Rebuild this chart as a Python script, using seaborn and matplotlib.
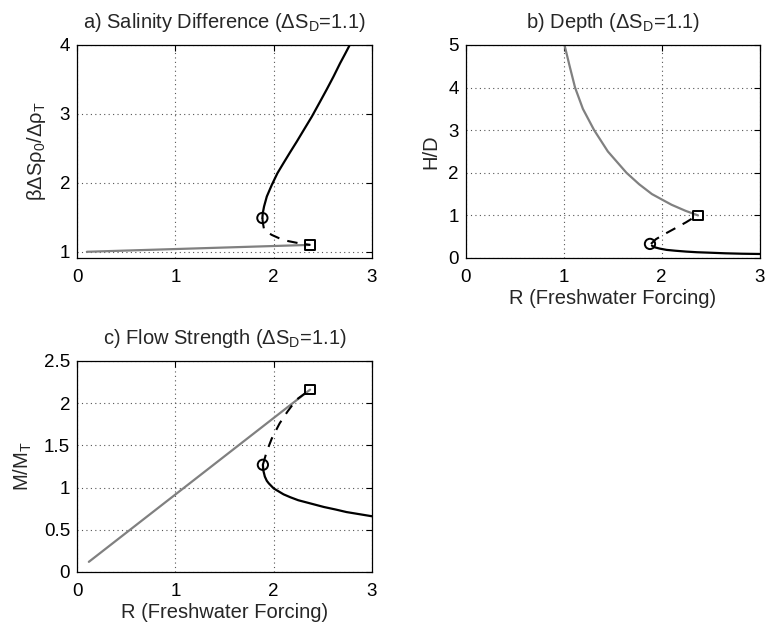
import seaborn as sns
import matplotlib.pyplot as plt
import matplotlib as mpl

# data (R = freshwater forcing)
a_gray_r = [0.10, 2.37]
a_gray_y = [1.00, 1.10]
a_solid_r = [1.885, 1.889, 1.902, 1.93, 1.981, 2.038, 2.099, 2.167, 2.235, 2.302, 2.388, 2.472, 2.54, 2.608, 2.675, 2.726, 2.77]
a_solid_y = [1.49, 1.561, 1.657, 1.802, 1.971, 2.14, 2.285, 2.444, 2.599, 2.758, 2.961, 3.179, 3.357, 3.541, 3.734, 3.87, 3.99]
a_dash_r = [1.885, 1.89, 1.90, 1.93, 1.98, 2.05, 2.13, 2.20, 2.27, 2.37]
a_dash_y = [1.49, 1.42, 1.34, 1.29, 1.245, 1.20, 1.16, 1.14, 1.12, 1.10]

b_gray_r = [1.007, 1.06, 1.115, 1.195, 1.31, 1.45, 1.64, 1.77, 1.90, 2.10, 2.24, 2.37]
b_gray_y = [5.00, 4.50, 4.00, 3.50, 3.00, 2.50, 2.00, 1.73, 1.50, 1.25, 1.11, 1.00]
b_solid_r = [1.90, 1.93, 1.98, 2.05, 2.14, 2.25, 2.36, 2.48, 2.65, 2.82, 3.00]
b_solid_y = [0.29, 0.25, 0.22, 0.19, 0.17, 0.15, 0.135, 0.125, 0.11, 0.10, 0.094]
b_dash_r = [1.89, 1.94, 2.02, 2.10, 2.18, 2.25, 2.32, 2.37]
b_dash_y = [0.33, 0.44, 0.55, 0.65, 0.75, 0.84, 0.94, 1.00]

c_gray_r = [0.12, 2.37]
c_gray_y = [0.12, 2.16]
c_solid_r = [1.89, 1.895, 1.91, 1.93, 1.95, 2.00, 2.05, 2.10, 2.17, 2.25, 2.38, 2.51, 2.63, 2.74, 2.87, 3.00]
c_solid_y = [1.27, 1.20, 1.13, 1.08, 1.05, 0.99, 0.955, 0.92, 0.885, 0.85, 0.81, 0.77, 0.74, 0.71, 0.685, 0.66]
c_dash_r = [1.89, 1.91, 1.93, 1.98, 2.06, 2.14, 2.23, 2.30, 2.37]
c_dash_y = [1.27, 1.35, 1.43, 1.58, 1.76, 1.90, 2.04, 2.10, 2.16]

circ_r = [1.885, 1.88, 1.89]
circ_y = [1.49, 0.33, 1.27]
sq_r = [2.37, 2.37, 2.37]
sq_y = [1.10, 1.00, 2.16]

sns.set_style("white")
plt.rcParams['font.family'] = ['Liberation Sans', 'DejaVu Sans']
plt.rcParams['mathtext.fontset'] = 'custom'
plt.rcParams['mathtext.rm'] = 'Liberation Sans'

fs_tick = 13.5
fs_lab = 14.5

fig = plt.figure(figsize=(7.65, 6.23), dpi=100)
ax_a = fig.add_axes([0.1007, 0.5859, 0.3856, 0.3419])
ax_b = fig.add_axes([0.609, 0.5859, 0.384, 0.3419])
ax_c = fig.add_axes([0.1007, 0.0819, 0.3856, 0.3387])

panels = [
    (ax_a, a_gray_r, a_gray_y, a_solid_r, a_solid_y, a_dash_r, a_dash_y, 0),
    (ax_b, b_gray_r, b_gray_y, b_solid_r, b_solid_y, b_dash_r, b_dash_y, 1),
    (ax_c, c_gray_r, c_gray_y, c_solid_r, c_solid_y, c_dash_r, c_dash_y, 2),
]

for ax, gr, gy, sr, sy, dr, dy, i in panels:
    sns.lineplot(x=gr, y=gy, ax=ax, color="#808080", lw=1.6, sort=False, estimator=None)
    sns.lineplot(x=sr, y=sy, ax=ax, color="k", lw=1.6, sort=False, estimator=None)
    sns.lineplot(x=dr, y=dy, ax=ax, color="k", lw=1.5, sort=False, estimator=None,
                 dashes=False, linestyle=(0, (5, 4)))
    sns.scatterplot(x=[circ_r[i]], y=[circ_y[i]], ax=ax, marker="o", s=55,
                    facecolor="none", edgecolor="k", linewidth=1.4, zorder=5)
    sns.scatterplot(x=[sq_r[i]], y=[sq_y[i]], ax=ax, marker="s", s=45,
                    facecolor="none", edgecolor="k", linewidth=1.4, zorder=5)

    ax.set_xlim(0, 3)
    ax.set_xticks([0, 1, 2, 3])
    ax.grid(True, ls=(0, (1, 3)), color="#555555", lw=0.8)
    ax.tick_params(direction="in", top=True, right=True, length=4, width=0.8,
                   labelsize=fs_tick, colors="k")
    ax.tick_params(axis="x", pad=8)
    ax.tick_params(axis="y", pad=5)
    ax.xaxis.set_major_formatter(mpl.ticker.FormatStrFormatter("%g"))
    ax.yaxis.set_major_formatter(mpl.ticker.FormatStrFormatter("%g"))
    for sp in ax.spines.values():
        sp.set_color("k")
        sp.set_linewidth(0.9)

ax_a.set_ylim(0.91, 4)
ax_a.set_yticks([1, 2, 3, 4])
ax_a.set_title("a) Salinity Difference (ΔS$_\\mathregular{D}$=1.1)", fontsize=fs_lab, pad=12)
ax_a.set_ylabel("βΔSρ$_\\mathregular{0}$/Δρ$_\\mathregular{T}$", fontsize=fs_lab, labelpad=8)

ax_b.set_ylim(0, 5)
ax_b.set_yticks([0, 1, 2, 3, 4, 5])
ax_b.set_title("b) Depth (ΔS$_\\mathregular{D}$=1.1)", fontsize=fs_lab, pad=12)
ax_b.set_ylabel("H/D", fontsize=fs_lab, labelpad=6)
ax_b.set_xlabel("R (Freshwater Forcing)", fontsize=fs_lab, labelpad=2)

ax_c.set_ylim(0, 2.5)
ax_c.set_yticks([0, 0.5, 1, 1.5, 2, 2.5])
ax_c.set_title("c) Flow Strength (ΔS$_\\mathregular{D}$=1.1)", fontsize=fs_lab, pad=12)
ax_c.set_ylabel("M/M$_\\mathregular{T}$", fontsize=fs_lab, labelpad=7)
ax_c.set_xlabel("R (Freshwater Forcing)", fontsize=fs_lab, labelpad=2)

plt.savefig("out.png", dpi=100)
